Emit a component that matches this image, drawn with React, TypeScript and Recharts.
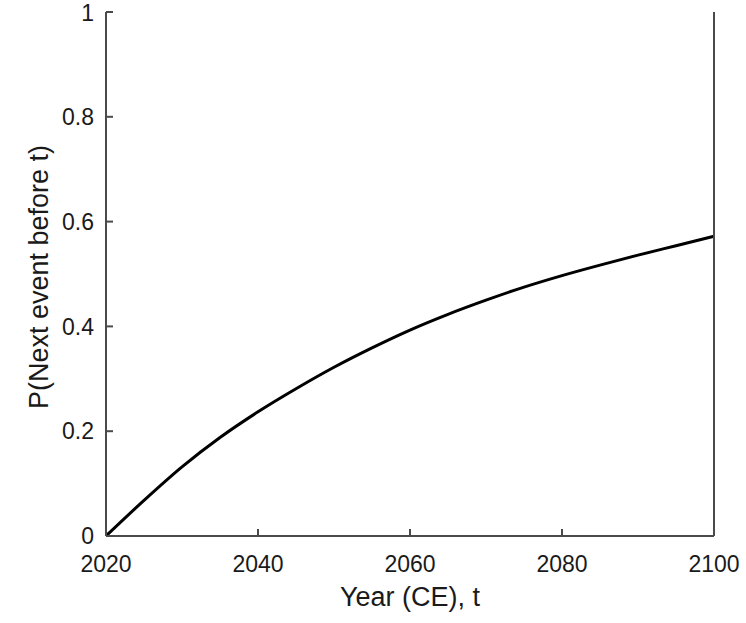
import { LineChart, Line, XAxis, YAxis } from 'recharts'

const years = [2020, 2025, 2030, 2035, 2040, 2045, 2050, 2055, 2060, 2065, 2070, 2075, 2080, 2085, 2090, 2095, 2100]
const probs = [0, 0.068, 0.132, 0.188, 0.237, 0.281, 0.322, 0.359, 0.393, 0.423, 0.45, 0.475, 0.497, 0.517, 0.536, 0.554, 0.572]

const xTicks = [2020, 2040, 2060, 2080, 2100]
const yTicks = [0, 0.2, 0.4, 0.6, 0.8, 1]

const FONT = '"Liberation Sans", Arial, sans-serif'
const FRAME = '#4a4a4a'

export default function App() {
  const data = years.map((year, i) => ({ year, p: probs[i] }))

  const tickStyle = { fontSize: 23, fill: '#1a1a1a', fontFamily: FONT }

  return (
    <div style={{ position: 'absolute', left: 0, top: 0 }}>
      <LineChart width={746} height={623} data={data} margin={{ top: 12, right: 0, bottom: 0, left: 0 }}>
        <XAxis
          dataKey="year"
          type="number"
          domain={[2020, 2100]}
          ticks={xTicks}
          height={87}
          tickSize={-7}
          tickMargin={27}
          tick={tickStyle}
          axisLine={{ stroke: FRAME, strokeWidth: 2 }}
          tickLine={{ stroke: FRAME, strokeWidth: 2 }}
          label={{ value: 'Year (CE), t', position: 'insideBottom', offset: 17, fontSize: 27, fill: '#1a1a1a', fontFamily: FONT }}
        />
        <XAxis
          xAxisId="top"
          orientation="top"
          dataKey="year"
          type="number"
          domain={[2020, 2100]}
          ticks={xTicks}
          height={0}
          tickSize={-7}
          tick={false}
          axisLine={{ stroke: FRAME, strokeWidth: 2 }}
          tickLine={{ stroke: FRAME, strokeWidth: 2 }}
        />
        <YAxis
          type="number"
          domain={[0, 1]}
          ticks={yTicks}
          width={106}
          tickSize={-7}
          tickMargin={19}
          tick={tickStyle}
          axisLine={{ stroke: FRAME, strokeWidth: 2 }}
          tickLine={{ stroke: FRAME, strokeWidth: 2 }}
          label={{
            value: 'P(Next event before t)',
            angle: -90,
            position: 'insideLeft',
            offset: 38,
            dy: 3,
            style: { textAnchor: 'middle' },
            fontSize: 27,
            fill: '#1a1a1a',
            fontFamily: FONT,
          }}
        />
        <YAxis
          yAxisId="right"
          orientation="right"
          type="number"
          domain={[0, 1]}
          ticks={yTicks}
          width={32}
          tickSize={-7}
          tick={false}
          axisLine={{ stroke: FRAME, strokeWidth: 2 }}
          tickLine={{ stroke: FRAME, strokeWidth: 2 }}
        />
        <Line
          dataKey="p"
          type="monotone"
          stroke="#000"
          strokeWidth={3}
          dot={false}
          isAnimationActive={false}
        />
      </LineChart>
    </div>
  )
}
